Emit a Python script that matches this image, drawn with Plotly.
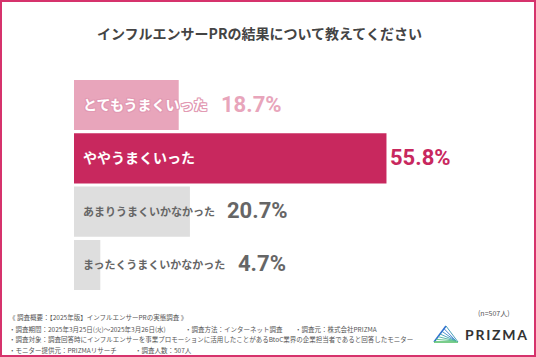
import plotly.graph_objects as go

# ---------------- data ----------------
title_text = "インフルエンサーPRの結果について教えてください"
categories = ["とてもうまくいった", "ややうまくいった", "あまりうまくいかなかった", "まったくうまくいかなかった"]
values = [18.7, 55.8, 20.7, 4.7]
value_labels = ["18.7%", "55.8%", "20.7%", "4.7%"]
n_label = "(n=507人)"
footer_rows = [
    ["《 調査概要：【2025年版】インフルエンサーPRの実態調査 》"],
    ["・調査期間：2025年3月25日(火)〜2025年3月26日(水)", "・調査方法：インターネット調査", "・調査元：株式会社PRIZMA"],
    ["・調査対象：調査回答時にインフルエンサーを事業プロモーションに活用したことがあるBtoC業界の企業担当者であると回答したモニター"],
    ["・モニター提供元：PRIZMAリサーチ", "・調査人数：507人"],
]
logo_text = "PRIZMA"

# ---------------- style ----------------
W, H = 536, 357
bar_colors = ["#e8a5bb", "#c8285e", "#dedede", "#dedede"]
label_colors = ["#ffffff", "#ffffff", "#666666", "#666666"]
label_sizes = [14, 14, 11, 11]
value_colors = ["#e8a5bb", "#c8285e", "#666666", "#666666"]
border_color = "#d6336c"
footer_color = "#555555"
footer_x = [[7], [7, 183, 293], [7], [7, 133]]
footer_y = [317, 329, 339, 350]

plot_left, plot_right = 74, 522
plot_top, plot_bottom = 78.4, 291.6
x_max = 80
px_per_unit = (plot_right - plot_left) / x_max

jp = "Noto Sans CJK JP, Noto Sans, sans-serif"
narrow = "Roboto, Liberation Sans, sans-serif"


def pp(x, y):
    return x / W, 1 - y / H


fig = go.Figure()
fig.add_trace(go.Bar(
    x=values, y=categories, orientation="h",
    marker=dict(color=bar_colors, line=dict(width=0)),
    hoverinfo="skip", showlegend=False,
))

annotations = []
label_shift = 7
for i, (cat, v, vl) in enumerate(zip(categories, values, value_labels)):
    font = dict(family=jp, size=label_sizes[i], color=label_colors[i], weight="bold")
    if i == 0:
        sc = "#e29ab3"
        font["shadow"] = f"1px 1px 0 {sc}, -1px -1px 0 {sc}, 1px -1px 0 {sc}, -1px 1px 0 {sc}, 0 1px 0 {sc}, 0 -1px 0 {sc}, 1px 0 0 {sc}, -1px 0 0 {sc}"
    annotations.append(dict(
        x=0, y=cat, xref="x", yref="y", text=cat, showarrow=False,
        xanchor="left", yanchor="middle", xshift=label_shift, yshift=1, font=font,
    ))
    text_end_px = label_shift + len(cat) * label_sizes[i] + 12
    bar_end_px = v * px_per_unit + 2
    shift = max(text_end_px, bar_end_px) - v * px_per_unit
    annotations.append(dict(
        x=v, y=cat, xref="x", yref="y", text=vl, showarrow=False,
        xanchor="left", yanchor="middle", xshift=shift, yshift=1,
        font=dict(family=narrow, size=22, color=value_colors[i], weight="bold"),
    ))

# title
tx, ty = pp(259, 33)
annotations.append(dict(x=tx, y=ty, xref="paper", yref="paper", text=title_text, showarrow=False,
                        xanchor="center", yanchor="middle",
                        font=dict(family=jp, size=14, color="#444444", weight="bold")))

# footer
for row, xs, y in zip(footer_rows, footer_x, footer_y):
    for txt, x in zip(row, xs):
        fx, fy = pp(x, y)
        annotations.append(dict(x=fx, y=fy, xref="paper", yref="paper", text=txt, showarrow=False,
                                xanchor="left", yanchor="middle",
                                font=dict(family=jp, size=6.5, color=footer_color)))

nx, ny = pp(494, 313)
annotations.append(dict(x=nx, y=ny, xref="paper", yref="paper", text=n_label, showarrow=False,
                        xanchor="center", yanchor="middle",
                        font=dict(family=jp, size=7, color=footer_color)))

lx, ly = pp(496, 334)
annotations.append(dict(x=lx, y=ly, xref="paper", yref="paper", text="\u2009".join(logo_text), showarrow=False,
                        xanchor="center", yanchor="middle",
                        font=dict(family="Lato, Noto Sans, sans-serif", size=14, color="#333333", weight="bold")))

shapes = []
# border
b0 = pp(1, 1)
b1 = pp(W - 1, H - 1)
shapes.append(dict(type="rect", xref="paper", yref="paper", x0=b0[0], y0=b1[1], x1=b1[0], y1=b0[1],
                   line=dict(color=border_color, width=2), fillcolor="rgba(0,0,0,0)", layer="above"))

# logo triangle
apex, bl, br = (446, 326), (434, 342), (458, 342)
def seg(p, q, color, w=1.3):
    a, b = pp(*p), pp(*q)
    shapes.append(dict(type="line", xref="paper", yref="paper", x0=a[0], y0=a[1], x1=b[0], y1=b[1],
                       line=dict(color=color, width=w)))

seg(apex, bl, "#2f6fd0", 1.6)
seg(bl, br, "#59c06e", 1.6)
seg(apex, br, "#4aa0b8", 1.0)
fan_cols = ["#3478d0", "#3a8ac8", "#40a0b8", "#48b2a0", "#52bd86"]
for k, c in enumerate(fan_cols):
    t = (k + 1) / (len(fan_cols) + 1)
    p = (apex[0] + (bl[0] - apex[0]) * t, apex[1] + (bl[1] - apex[1]) * t)
    seg(p, (br[0] - 2, br[1] - 1), c, 0.9)

fig.update_layout(
    width=W, height=H,
    margin=dict(l=0, r=0, t=0, b=0),
    paper_bgcolor="white", plot_bgcolor="white",
    bargap=0.06,
    xaxis=dict(domain=[plot_left / W, plot_right / W], range=[0, x_max], visible=False, fixedrange=True),
    yaxis=dict(domain=[1 - plot_bottom / H, 1 - plot_top / H], autorange="reversed", visible=False,
               fixedrange=True),
    annotations=annotations,
    shapes=shapes,
)

fig.write_html("out.html", config={"displayModeBar": False},
               post_script="document.body.style.margin='0';document.body.style.overflow='hidden';")
